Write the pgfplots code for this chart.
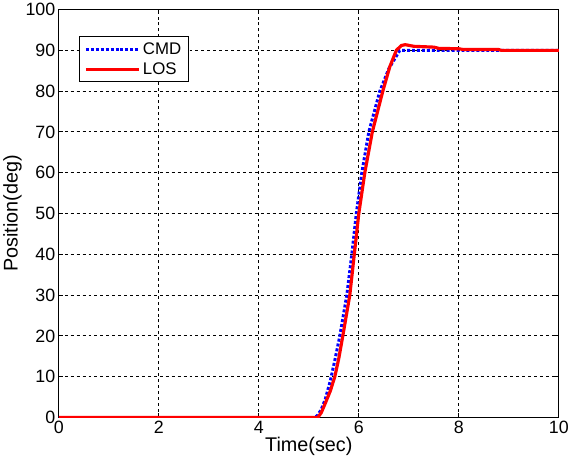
\documentclass[border=0pt]{standalone}
\usepackage{fontspec}
\setmainfont{Liberation Sans}
\usepackage{pgfplots}
\pgfplotsset{compat=1.18}

\pgfplotstableread{
t y
0 0
5.12 0
5.18 0.6
5.25 2
5.33 4.5
5.43 9
5.52 14
5.62 20
5.76 30
5.86 40
5.95 50
6.06 60
6.2 70
6.42 80
6.6 85.5
6.82 90
10 90
}\cmd

\pgfplotstableread{
t y
0 0
5.18 0
5.25 1.2
5.33 3.5
5.43 6.5
5.52 10
5.6 14.5
5.68 20
5.82 30
5.91 40
6.0 50
6.12 60
6.27 70
6.48 80
6.62 86
6.75 90
6.85 91.2
6.93 91.4
7.1 91.0
7.5 90.8
7.6 90.5
8.0 90.4
8.1 90.2
8.8 90.2
8.85 90
10 90
}\los

\begin{document}
\begin{tikzpicture}
\begin{axis}[
  scale only axis,
  width=505pt, height=412pt,
  xmin=0, xmax=10, ymin=0, ymax=100,
  xtick={0,2,...,10}, ytick={0,10,...,100},
  grid=major,
  major grid style={black, dash pattern=on 3pt off 3pt, line width=1pt},
  axis line style={black, line width=1pt},
  tick style={black, line width=1pt},
  tick align=inside,
  tick label style={font=\fontsize{18}{20}\selectfont},
  /pgf/number format/assume math mode=true,
  xlabel={Time(sec)}, ylabel={Position(deg)},
  label style={font=\fontsize{20}{22}\selectfont},
  xlabel style={yshift=3pt},
  ylabel style={yshift=-3pt},
  legend style={at={(0.04,0.935)}, anchor=north west, draw=black, line width=1pt,
    font=\fontsize{17}{19}\selectfont, row sep=3pt, inner xsep=5pt, inner ysep=4pt},
  legend cell align=left,
  legend image code/.code={\draw[#1] (0cm,0cm) -- (1.9cm,0cm);},
]
\addplot[blue, line width=3pt, dash pattern=on 3pt off 2pt] table[x=t,y=y] {\cmd};
\addlegendentry{CMD}
\addplot[red, line width=3.2pt, line join=round] table[x=t,y=y] {\los};
\addlegendentry{LOS}
\end{axis}
\end{tikzpicture}
\end{document}
